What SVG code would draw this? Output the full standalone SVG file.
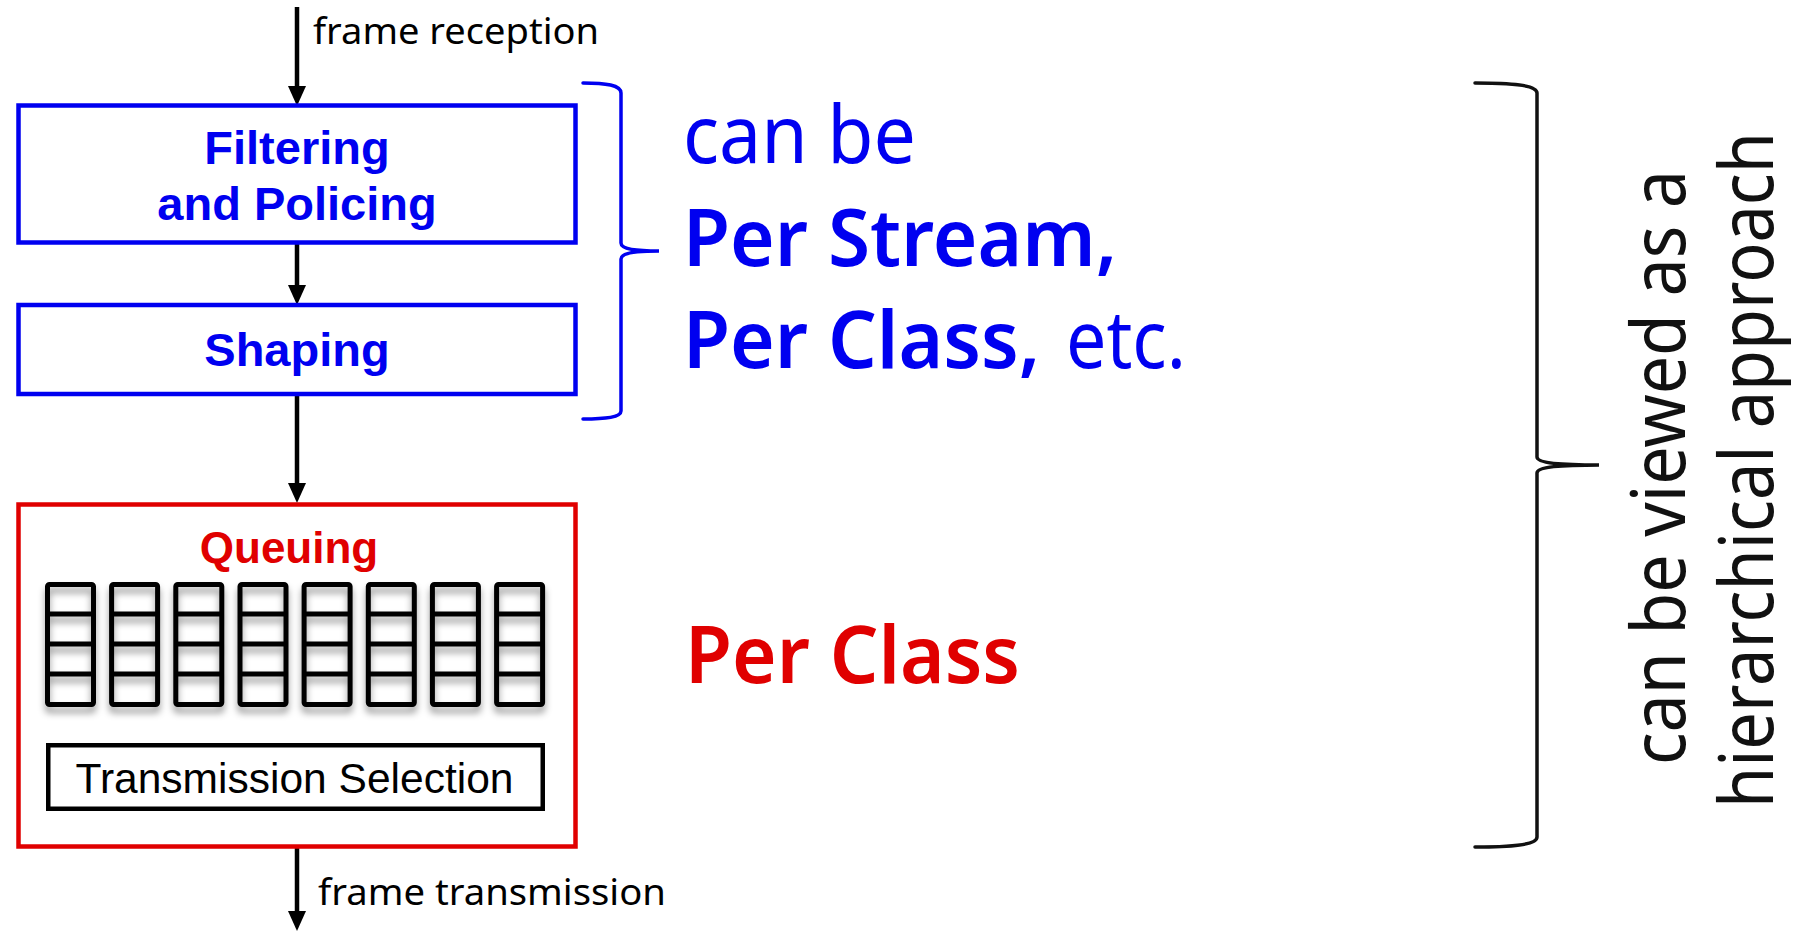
<svg xmlns="http://www.w3.org/2000/svg" width="1800" height="931" viewBox="0 0 1800 931">
<style>
.bg{fill:#fff}
.box{fill:none;stroke-width:4.5}
.blue{stroke:#0000f0}
.red{stroke:#e00000}
.lbl{font-family:"Liberation Sans",Arial,sans-serif;font-weight:bold;text-anchor:middle}
.hilda{font-family:"Noto Sans","Open Sans",sans-serif}
.arrow{stroke:#000;stroke-width:4.5;fill:none;marker-end:url(#ah)}
.brace{fill:none;stroke-width:3.5;stroke-linecap:round}
</style>
<defs>
<marker id="ah" viewBox="0 0 20 18" refX="2" refY="9" markerWidth="20" markerHeight="18" markerUnits="userSpaceOnUse" orient="auto">
<path d="M0,0 L20,9 L0,18 z" fill="#000"/>
</marker>
<filter id="sh" x="-20%" y="-20%" width="140%" height="150%">
<feDropShadow dx="0" dy="6" stdDeviation="3.5" flood-color="#000" flood-opacity="0.4"/>
</filter>
<g id="col" fill="none" stroke="#000" stroke-width="5">
<rect x="0" y="584.5" width="46" height="120" rx="2"/>
<line x1="0" y1="614" x2="46" y2="614"/>
<line x1="0" y1="644" x2="46" y2="644"/>
<line x1="0" y1="674" x2="46" y2="674"/>
</g>
</defs>
<rect class="bg" x="0" y="0" width="1800" height="931"/>

<g id="connectors">
<line class="arrow" x1="297" y1="7" x2="297" y2="88"/>
<line class="arrow" x1="297" y1="243" x2="297" y2="287"/>
<line class="arrow" x1="297" y1="394" x2="297" y2="485"/>
<line class="arrow" x1="297" y1="848" x2="297" y2="913"/>
</g>

<g id="label-reception">
<text class="hilda" x="313" y="44" font-size="37" fill="#000" textLength="286" lengthAdjust="spacingAndGlyphs">frame reception</text>
</g>
<g id="label-transmission">
<text class="hilda" x="318" y="905" font-size="37" fill="#000" textLength="348" lengthAdjust="spacingAndGlyphs">frame transmission</text>
</g>

<g id="filtering">
<rect class="box blue" x="18.5" y="105.5" width="557" height="137"/>
<text class="lbl" x="297" y="164" font-size="47" fill="#0000f0">Filtering</text>
<text class="lbl" x="297" y="220" font-size="47" fill="#0000f0">and Policing</text>
</g>

<g id="shaping">
<rect class="box blue" x="18.5" y="305" width="557" height="89"/>
<text class="lbl" x="297" y="366" font-size="47" fill="#0000f0">Shaping</text>
</g>

<g id="queuing">
<rect class="box red" x="18.5" y="504.5" width="557" height="342"/>
<text class="lbl" x="289" y="563" font-size="44" fill="#e00000">Queuing</text>
<g filter="url(#sh)">
<use href="#col" x="47.5"/>
<use href="#col" x="111.6"/>
<use href="#col" x="175.8"/>
<use href="#col" x="240"/>
<use href="#col" x="304.1"/>
<use href="#col" x="368.3"/>
<use href="#col" x="432.4"/>
<use href="#col" x="496.6"/>
</g>
<g id="transmission-selection">
<rect x="48.25" y="745.25" width="494.5" height="63.5" fill="#fff" stroke="#000" stroke-width="4.5"/>
<text x="294.5" y="793" font-family="Liberation Sans, Arial, sans-serif" font-size="42" text-anchor="middle" fill="#000" textLength="438" lengthAdjust="spacingAndGlyphs">Transmission Selection</text>
</g>
</g>

<g id="brace-blue">
<path class="brace" stroke="#0000f0" d="M583,83 C606,83 621,85 621,93 L621,243 C621,249 636,251 659,251 C636,251 621,253 621,259 L621,411 C621,417 606,419 583,419"/>
</g>

<g id="text-blue" class="hilda" fill="#0000f0">
<text x="683" y="163" font-size="80" textLength="233" lengthAdjust="spacingAndGlyphs">can be</text>
<text x="683" y="266" font-size="80" font-weight="600" textLength="434" lengthAdjust="spacingAndGlyphs">Per Stream,</text>
<text x="683" y="368" font-size="80" font-weight="600" textLength="357" lengthAdjust="spacingAndGlyphs">Per Class,</text>
<text x="1066" y="368" font-size="80" textLength="120" lengthAdjust="spacingAndGlyphs">etc.</text>
</g>

<g id="text-red">
<text class="hilda" x="685" y="683" font-size="80" font-weight="600" fill="#e00000" textLength="335" lengthAdjust="spacingAndGlyphs">Per Class</text>
</g>

<g id="brace-black">
<path class="brace" stroke="#111" d="M1475,83 C1511,83 1537,85 1537,93 L1537,457 C1537,463 1561,465 1599,465 C1561,465 1537,467 1537,473 L1537,837 C1537,845 1511,847 1475,847"/>
</g>

<g id="text-hierarchical" class="hilda" fill="#111" font-size="74">
<text transform="translate(1685,765) rotate(-90)" x="0" y="0" textLength="595" lengthAdjust="spacingAndGlyphs">can be viewed as a</text>
<text transform="translate(1773,808) rotate(-90)" x="0" y="0" textLength="676" lengthAdjust="spacingAndGlyphs">hierarchical approach</text>
</g>
</svg>
